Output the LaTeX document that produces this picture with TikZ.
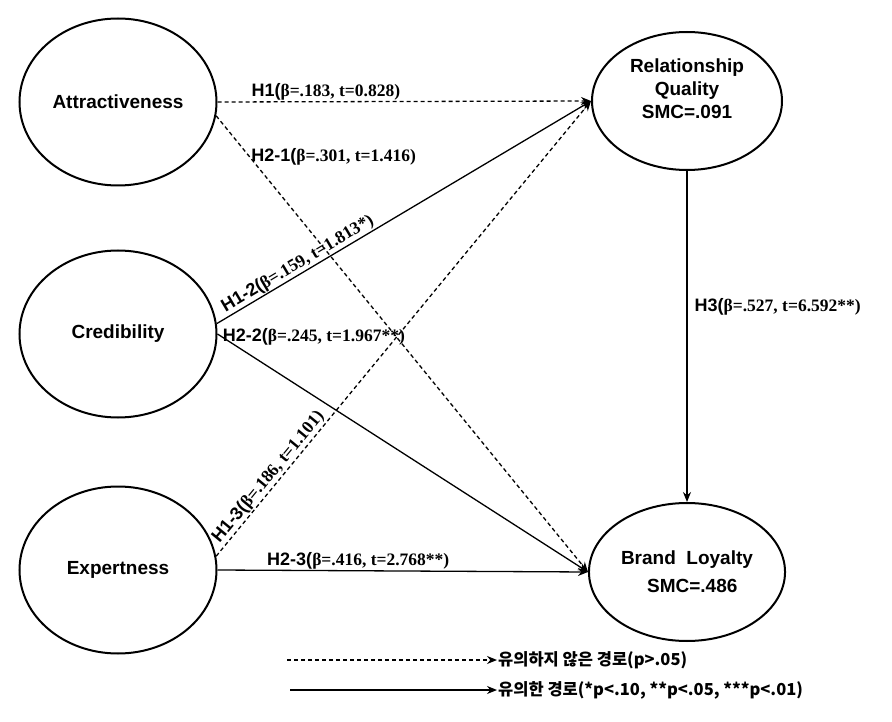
\documentclass[tikz,border=0pt]{standalone}
\usepackage{fontspec}
\setmainfont{Liberation Serif}
\setsansfont{Liberation Sans}
\newfontfamily\krfont{Noto Sans CJK KR}
\usetikzlibrary{shapes,arrows.meta,positioning}

% path label: sans head, serif coefficients
\newcommand{\hyp}[2]{{\sffamily\bfseries\fontsize{18}{20}\selectfont #1(}{\bfseries\fontsize{17.5}{20}\selectfont β=#2)}}

\begin{document}
\begin{tikzpicture}
  [x=1pt,y=-1pt,
   latent/.style={ellipse,draw,line width=2pt,align=center,
     font=\sffamily\bfseries\fontsize{19}{23}\selectfont},
   path/.style={line width=1.3pt,-{Stealth[length=10pt,width=8pt]}},
   nspath/.style={path,dash pattern=on 4pt off 3pt},
   lab/.style={inner sep=1pt},
   legend/.style={font=\krfont\bfseries\fontsize{16.5}{18}\selectfont,inner sep=1pt}]
  \useasboundingbox (0,0) rectangle (892,722);

  \node[latent,minimum width=197,minimum height=167] (attr) at (118,102) {Attractiveness};
  \node[latent,minimum width=197,minimum height=167] (cred) at (118,334) {Credibility};
  \node[latent,minimum width=197,minimum height=167] (exp) at (118,570) {Expertness};
  \node[latent,minimum width=190,minimum height=138,text depth=24pt] (rq) at (687,101) {Relationship\\Quality\\SMC=.091};
  \node[latent,minimum width=190,minimum height=138] (bl) at (687,572) {Brand~~Loyalty\\[5pt]~~SMC=.486};

  \draw[nspath] (attr.east) -- node[lab,above,pos=.29] {\hyp{H1}{.183, t=0.828}} (rq.west);
  \draw[nspath] (attr.-8) -- node[lab,anchor=west,pos=.09] {\hyp{H2-1}{.301, t=1.416}} (bl.west);
  \draw[path] (cred.6) -- node[lab,sloped,above,pos=.23] {\hyp{H1-2}{.159, t=1.813*}} (rq.west);
  \draw[path] (cred.east) -- node[lab,anchor=west,pos=.01] {\hyp{H2-2}{.245, t=1.967**}} (bl.west);
  \draw[nspath] (exp.8) -- node[lab,sloped,above,pos=.16] {\hyp{H1-3}{.186, t=1.101}} (rq.west);
  \draw[path] (exp.east) -- node[lab,above,pos=.38] {\hyp{H2-3}{.416, t=2.768**}} (bl.west);
  \draw[path] (rq.south) -- node[lab,right=6pt,pos=.41] {\hyp{H3}{.527, t=6.592**}} (bl.north);

  %legend
  \node[legend,anchor=west] (nsig) at (497,660) {유의하지 않은 경로(p>.05)};
  \coordinate (nsigstart) at (287,660);
  \draw[nspath] (nsigstart) -- (nsig.west);
  \node[legend,anchor=west] (sig) at (497,690) {유의한 경로(*p<.10, **p<.05, ***p<.01)};
  \coordinate (sigstart) at (290,690);
  \draw[path] (sigstart) -- (sig.west);

\end{tikzpicture}
\end{document}
